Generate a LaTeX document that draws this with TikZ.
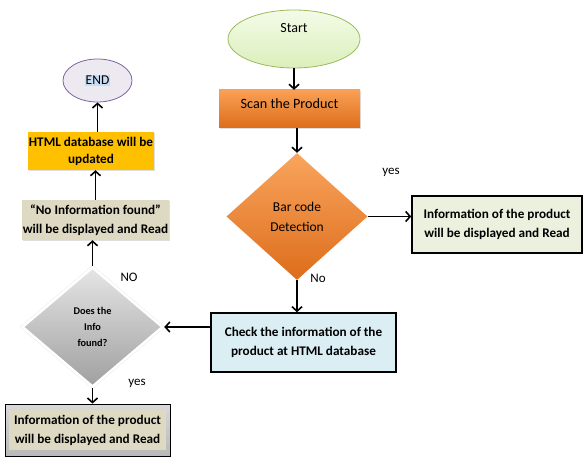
\documentclass[tikz,border=0pt]{standalone}
\usepackage{fontspec}
\setmainfont{Carlito}
\usetikzlibrary{shapes.geometric,shadows,arrows.meta}

\definecolor{startgreen}{HTML}{E2F5C6}
\definecolor{startline}{HTML}{9BBB59}
\definecolor{scanlight}{HTML}{F9A055}
\definecolor{scandark}{HTML}{DD6D1B}
\definecolor{infogreen}{HTML}{EBF1DE}
\definecolor{checkblue}{HTML}{DBEEF4}
\definecolor{noinfobeige}{HTML}{DDD9C3}
\definecolor{htmlgold}{HTML}{FFC000}
\definecolor{endfill}{HTML}{ECEAF0}
\definecolor{endline}{HTML}{8064A2}
\definecolor{endmark}{HTML}{C6DDF5}

\tikzset{
  flow/.style={-{Straight Barb[length=4.5pt, width=10pt]}, line width=1.6pt},
  boxtext/.style={font=\bfseries\fontsize{13.2}{19}\selectfont, align=center},
  plainbox/.style={rectangle, inner sep=0pt, boxtext},
  lightshadow/.style={drop shadow={opacity=0.25, shadow xshift=1pt, shadow yshift=-1.5pt}},
  branch/.style={font=\fontsize{13}{15}\selectfont}
}

\begin{document}
\begin{tikzpicture}[x=1pt, y=-1pt]
    \useasboundingbox (0, 0) rectangle (584, 457);

    % main column
    \node[ellipse, draw=startline, thick, top color=startgreen!40, bottom color=startgreen!90!startline,
          minimum width=132pt, minimum height=58pt, inner sep=0pt,
          font=\fontsize{14}{16}\selectfont, text depth=22pt] (start) at (294, 39) {Start};
    \node[plainbox, top color=scanlight, bottom color=scandark, lightshadow,
          minimum width=141pt, minimum height=38pt, text depth=10pt,
          font=\fontsize{14.2}{16}\selectfont] (scan) at (289.5, 109) {Scan the Product};
    \node[diamond, top color=scanlight!95!white, bottom color=scandark, inner sep=0pt,
          minimum width=141pt, minimum height=127pt, align=center,
          font=\fontsize{13.5}{20}\selectfont] (barcode) at (297, 216.5) {Bar code\\Detection};
    \node[plainbox, draw, line width=1.5pt, fill=infogreen,
          minimum width=170pt, minimum height=57pt] (inforight) at (497, 224.5)
          {Information of the product\\will be displayed and Read};
    \node[plainbox, draw, line width=1.5pt, fill=checkblue,
          minimum width=185pt, minimum height=59pt] (check) at (303.5, 342.5)
          {Check the information of the\\product at HTML database};

    % left column
    \node[diamond, draw=white, line width=2.5pt, top color=gray!20, bottom color=gray!75,
          drop shadow={opacity=0.15, shadow xshift=0pt, shadow yshift=0pt, shadow scale=1.04},
          minimum width=141pt, minimum height=120pt, inner sep=0pt, align=center,
          font=\bfseries\fontsize{10.3}{16}\selectfont] (found) at (92.5, 327) {Does the\\Info\\found?};
    \node[plainbox, draw, thick, top color=gray!30, bottom color=gray!55,
          minimum width=165pt, minimum height=52pt,
          path picture={\fill[noinfobeige] ([shift={(4pt,-6pt)}]path picture bounding box.north west)
                        rectangle ([shift={(-4pt,6pt)}]path picture bounding box.south east);}]
          (infobottom) at (87.5, 430) {Information of the product\\will be displayed and Read};
    \node[plainbox, fill=noinfobeige, lightshadow,
          minimum width=147pt, minimum height=40pt] (noinfo) at (95.5, 220)
          {``No Information found''\\will be displayed and Read};
    \node[plainbox, fill=htmlgold, lightshadow, font=\bfseries\fontsize{13.2}{17}\selectfont,
          minimum width=126pt, minimum height=38pt] (html) at (91, 151)
          {HTML database will be\\updated};
    \node[ellipse, draw=endline, thick, fill=endfill,
          minimum width=69pt, minimum height=43pt, inner sep=0pt,
          font=\fontsize{13.5}{15}\selectfont] (end) at (97.5, 80.5)
          {\setlength{\fboxsep}{1pt}\colorbox{endmark}{END}};

    % branch labels
    \node[branch] (yesright) at (391, 172) {yes};
    \node[branch] (nodown) at (318, 278) {No};
    \node[branch] (noup) at (129, 277) {NO};
    \node[branch] (yesdown) at (137, 383) {yes};

    % connectors
    \draw[flow] (start.south) -- (start.south |- scan.north);
    \draw[flow] (barcode.north |- scan.south) -- (barcode.north);
    \draw[flow] (barcode.east) -- (barcode.east -| inforight.west);
    \draw[flow] (barcode.south) -- (barcode.south |- check.north);
    \draw[flow] (check.west |- found.east) -- (found.east);
    \draw[flow] (found.south) -- (found.south |- infobottom.north);
    \draw[flow] (found.north) -- (found.north |- noinfo.south);
    \draw[flow] (noinfo.north) -- (noinfo.north |- html.south);
    \draw[flow] (end.south |- html.north) -- (end.south);
\end{tikzpicture}
\end{document}
